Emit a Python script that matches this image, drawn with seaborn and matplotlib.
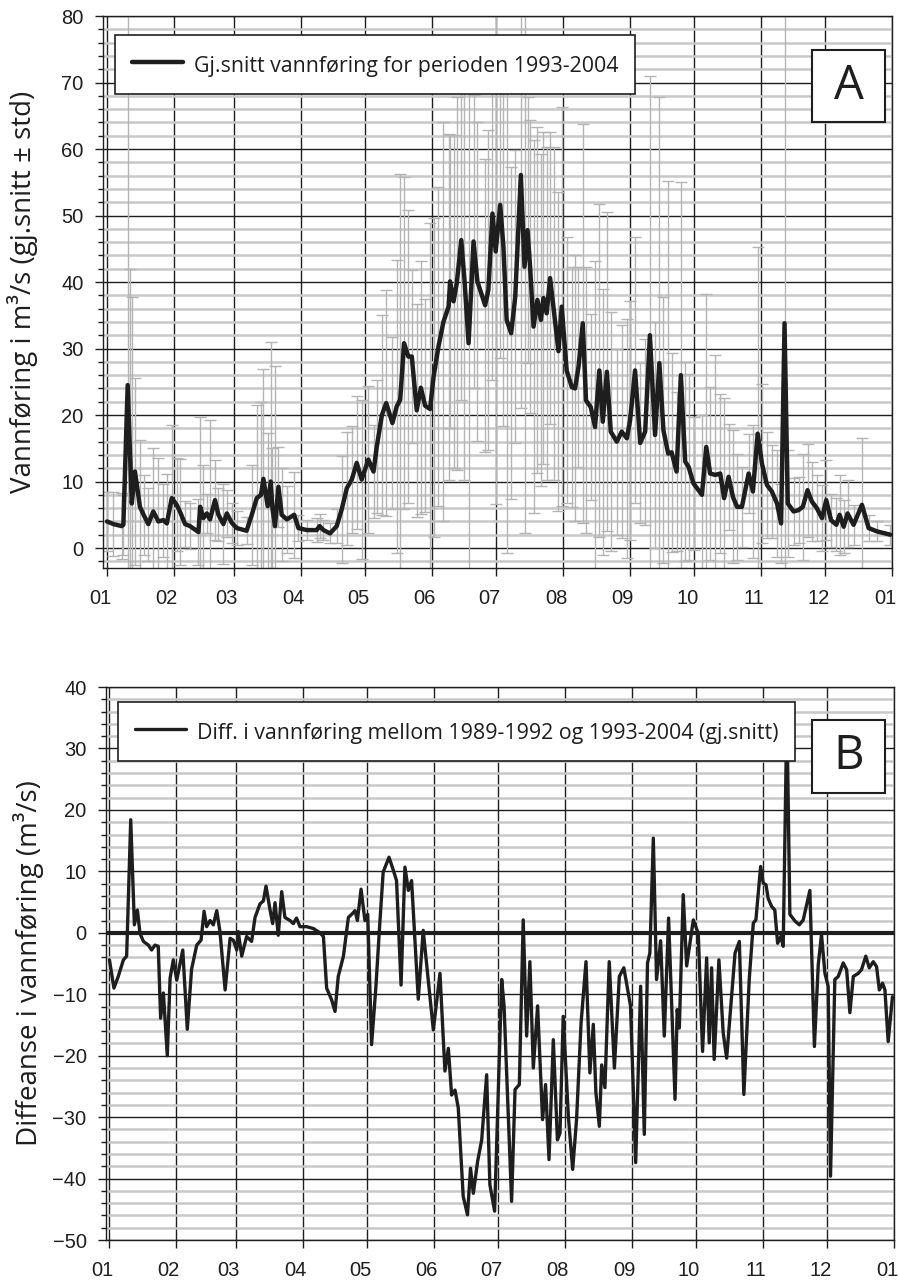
import matplotlib
matplotlib.use("Agg")
import matplotlib.pyplot as plt
import matplotlib.transforms as mtransforms
from matplotlib.patches import Rectangle
from matplotlib.ticker import MultipleLocator
import seaborn as sns

# Panel A: mean discharge 1993-2004 (day of year, 0 = 1 Jan) with +- std
days_a = [0, 3, 6.8, 7.6, 9.6, 10.5, 11.5, 13.0, 15.3, 17, 19.2, 21.5, 23.9, 26.2, 27.8,
          30.1, 32.4, 34.0, 36.3, 38.6, 42.5, 43.3, 44.8, 46.4, 47.9, 50.2, 51.8, 54.1,
          55.7, 58.0, 60.3, 64.9, 67.3, 69.6, 71.6, 72.7, 74.7, 76.1, 76.9, 78.1, 79.7,
          81.2, 83.6, 87.0, 89.0, 92.9, 97.5, 98.8, 100.6, 103.7, 106.8, 109.1, 111.5,
          113.8, 116.1, 118.4, 121.5, 123.9, 125.4, 127.8, 129.8, 132.7, 134.7, 136.3,
          138.1, 140.1, 141.7, 144.0, 145.9, 147.9, 150.2, 151.8, 154.1, 156.4, 158.8,
          159.5, 161.1, 162.6, 164.7, 166.2, 168.1, 170.4, 172.2, 175.8, 177.3, 179.2,
          180.7, 182.8, 184.3, 185.8, 187.9, 189.8, 192.4, 194.1, 195.5, 196.7, 198.3,
          200.1, 201.7, 202.9, 204.4, 206.0, 207.9, 209.9, 211.4, 213.7, 216.1, 217.6,
          219.2, 221.2, 222.7, 224.9, 226.9, 228.9, 230.5, 232.4, 234.2, 237.0, 239.3,
          241.7, 243.2, 245.5, 247.9, 250.2, 252.4, 254.8, 256.8, 258.7, 260.9, 262.5,
          264.8, 266.8, 268.8, 270.4, 272.7, 276.6, 278.6, 280.4, 282.8, 285.1, 286.9,
          289.0, 291.0, 292.9, 295.2, 298.3, 300.3, 302.5, 304.5, 306.8, 309.1, 311.5,
          313.4, 315.0, 316.5, 319.2, 321.5, 323.5, 325.7, 327.7, 330.0, 332.4, 334.4,
          336.6, 339.1, 340.6, 342.5, 344.3, 347.1, 351.0, 354.1, 358.0, 364.2]
mean_a = [4.0, 3.6, 3.3, 3.5, 24.5, 16, 6.7, 11.5, 6.2, 5.0, 3.6, 5.5, 4.0, 4.2, 3.7,
          7.5, 6.5, 5.4, 3.6, 3.3, 2.4, 6.2, 4.5, 5.2, 4.3, 7.2, 5.0, 3.6,
          5.2, 3.8, 3.0, 2.6, 5.0, 7.5, 8.0, 10.4, 6.3, 10.0, 6.0, 3.3, 9.2,
          5.0, 4.3, 5.0, 3.0, 2.7, 2.7, 3.3, 2.7, 2.2, 3.3, 5.8, 9.0,
          10.3, 12.8, 10.3, 13.3, 11.5, 15.2, 20.0, 21.8, 18.8, 21.3, 22.3,
          30.8, 28.8, 28.8, 20.7, 24.1, 21.4, 20.9, 25.7, 30.3, 34.0, 36.3,
          40.1, 37.1, 39.8, 46.3, 40.3, 30.8, 46.1, 40.1, 36.5, 38.8, 50.3,
          44.6, 51.6, 45.3, 34.3, 32.3, 37.8, 56.1, 42.3, 47.8, 42.3, 33.3,
          37.3, 34.3, 37.6, 35.3, 40.6, 35.3, 29.6, 36.3, 26.7, 24.2, 24.0,
          27.2, 33.8, 22.2, 21.2, 18.2, 26.7, 19.0, 26.5, 17.5, 16.0, 17.5,
          16.5, 19.2, 26.7, 15.8, 17.5, 32.0, 17.0, 27.8, 17.7, 14.2, 14.4,
          11.5, 26.0, 13.0, 12.2, 9.7, 8.0, 15.2, 11.2, 11.0, 11.2, 7.5,
          10.7, 7.7, 6.2, 6.2, 11.2, 8.5, 17.2, 12.7, 9.5, 8.5, 6.7,
          3.7, 33.8, 6.7, 5.5, 5.7, 6.2, 8.7, 7.0, 6.0, 4.5, 7.2,
          4.2, 3.5, 5.0, 3.2, 5.2, 3.5, 6.5, 3.0, 2.5, 2.0]
std_a = [4.5, 4.8, 5.0, 4.5, 58, 26, 31, 14, 10, 6, 5.5, 9.5, 9.5, 5.5, 7.5,
         11, 7, 8, 3.5, 3.5, 5, 13.5, 8, 3, 15, 6, 4, 6,
         3.5, 3, 2.5, 2, 7.5, 14, 14, 16.5, 11, 21, 9, 24, 6,
         7, 5, 6.5, 2, 1.5, 1.8, 1.8, 1.5, 1.5, 2.5, 8, 8.5,
         8, 10, 12, 11, 7, 10, 15, 17, 13, 22, 34,
         25, 22, 13, 16, 19, 16, 28, 24, 24, 30, 26,
         22, 25, 28, 24, 30, 41, 22, 24, 22, 24, 25,
         38, 23, 27, 35, 25, 22, 35, 40, 20, 22, 28,
         26, 25, 25, 25, 22, 25, 24, 30, 20, 18, 20,
         15, 30, 20, 14, 25, 25, 20, 24, 18, 14, 16,
         18, 18, 20, 12, 14, 39, 17, 40, 20, 41, 15,
         12, 29, 15, 14, 10, 12, 23, 13, 18, 12, 15,
         8, 10, 8, 6, 6, 10, 28, 12, 8, 7, 8,
         6, 50, 8, 5, 5, 8, 7, 6, 5, 5, 6,
         4, 4, 6, 4, 5, 3, 10, 2, 1.5, 1.5]

# Panel B: difference 1989-1992 minus 1993-2004
days_b = [0.2, 2.3, 4.3, 6.7, 8.2, 10.1, 11.8, 13.2, 14.4, 16.0, 18.3, 19.8, 21.4, 22.9,
          24.0, 25.3, 27.1, 28.4, 29.9, 31.5, 34.3, 36.4, 38.4, 40.8, 42.8, 44.2, 45.4,
          47.0, 48.5, 50.1, 51.6, 54.0, 56.3, 57.8, 59.4, 60.1, 61.7, 64.0, 66.3, 67.9,
          70.2, 71.8, 73.0, 74.9, 76.1, 77.2, 78.7, 80.3, 81.8, 84.2, 85.7, 87.2, 88.8,
          91.9, 95.0, 98.1, 99.7, 101.2, 103.5, 105.1, 106.6, 109.0, 111.3, 112.8, 114.4,
          115.5, 117.2, 119.0, 120.3, 122.1, 124.1, 126.0, 127.5, 130.2, 132.2, 133.7,
          135.8, 137.6, 139.2, 140.7, 143.8, 146.1, 150.8, 153.9, 156.2, 157.8, 159.3,
          160.9, 162.4, 164.7, 166.7, 168.1, 169.4, 171.4, 173.3, 175.6, 177.1, 179.3,
          182.6, 183.7, 187.2, 188.8, 190.8, 192.6, 194.2, 195.7, 197.3, 199.3, 201.6,
          203.0, 204.6, 206.6, 208.5, 209.7, 211.2, 213.6, 215.6, 217.4, 219.5, 221.8,
          223.6, 225.2, 226.4, 228.0, 229.1, 230.6, 232.6, 235.0, 237.3, 239.4, 242.5,
          244.9, 247.2, 248.9, 250.4, 251.5, 253.1, 254.6, 256.5, 258.2, 260.2, 263.2,
          264.2, 265.2, 267.0, 268.6, 271.7, 274.0, 276.0, 277.9, 279.1, 280.2, 281.4,
          283.6, 285.6, 287.2, 288.4, 291.1, 293.1, 295.2, 297.7, 299.6, 300.8, 303.0,
          304.2, 305.5, 306.5, 308.1, 309.6, 310.9, 312.4, 313.5, 315.2, 316.6, 319.0,
          321.0, 322.8, 325.9, 328.0, 329.8, 331.3, 332.9, 334.4, 335.5, 337.5, 339.1,
          341.4, 343.0, 344.5, 346.1, 348.4, 349.9, 351.9, 353.5, 355.4, 356.9, 358.2,
          359.7, 360.8, 362.3, 364.3]
diff_b = [-4.4, -9.0, -7.1, -4.4, -3.8, 18.4, 1.3, 3.7, -0.1, -1.4, -2.0, -2.8, -2.0, -2.2,
          -13.9, -9.8, -20.0, -7.4, -4.4, -7.7, -2.8, -15.7, -5.9, -2.0, -1.2, 3.5, 1.0,
          2.0, 1.3, 3.6, 0.2, -9.3, -0.9, -1.2, -2.8, 0.2, -3.8, -0.6, -1.4, 2.5,
          4.7, 5.2, 7.6, 3.7, 1.5, 4.9, -0.4, 6.7, 2.5, 2.0, 1.5, 2.4, 1.0,
          1.0, 0.7, 0.0, -0.6, -9.0, -10.9, -12.8, -7.1, -3.8, 2.5, 3.0, 3.6,
          2.0, 7.1, 2.0, 3.0, -18.2, -8.8, 2.0, 9.9, 12.3, 10.2, 8.5,
          -8.5, 10.7, 6.9, 8.5, -10.8, 0.4, -15.8, -6.6, -22.5, -18.8, -26.4,
          -25.6, -28.5, -42.9, -45.9, -38.3, -42.4, -37.2, -33.7, -23.1, -41.0, -45.3,
          -7.6, -11.9, -43.7, -25.5, -24.7, 2.1, -16.8, -4.7, -22.0, -11.9, -30.4,
          -24.7, -36.9, -17.4, -33.7, -32.6, -13.6, -29.9, -38.5, -30.4, -14.7, -4.7,
          -22.8, -14.9, -26.0, -31.5, -21.5, -25.2, -4.7, -22.0, -7.1, -5.7, -11.9,
          -37.4, -8.7, -32.8, -4.9, -3.3, 15.4, -7.6, -1.3, -16.8, 2.4, -27.1,
          -12.5, -15.5, 6.2, -5.4, 2.1, -0.1, -19.3, -4.1, -17.9, -5.7, -20.6,
          -4.4, -16.3, -20.4, -15.2, -3.3, -1.4, -26.3, -7.6, 1.6, 2.1, 10.8,
          8.1, 7.8, 5.6, 4.3, 3.7, -1.7, -0.6, -2.2, 36.0, 3.0, 1.9,
          1.3, 2.1, 6.9, -18.5, -5.2, -0.3, -6.6, -8.7, -39.6, -7.6, -7.1,
          -4.9, -6.0, -13.0, -7.1, -6.6, -6.0, -3.8, -5.7, -4.7, -5.5, -9.3,
          -8.2, -9.3, -17.7, -10.4]

month_days = [0, 31, 59, 90, 120, 151, 181, 212, 243, 273, 304, 334, 365]
month_labels = ["01", "02", "03", "04", "05", "06", "07", "08", "09", "10", "11", "12", "01"]

dark = "#1e1e1e"
label_font = "Open Sans"

sns.set_style("white")
plt.rcParams["font.family"] = ["Liberation Sans", "DejaVu Sans"]

fig = plt.figure(figsize=(8.99, 12.83), dpi=100)
ax_a = fig.add_axes([0.1146, 0.5573, 0.8777, 0.4302])
ax_b = fig.add_axes([0.1179, 0.0335, 0.8765, 0.4310])


def style_axis(ax, ylim, xmin):
    ax.set_xlim(xmin, 365)
    ax.set_ylim(*ylim)
    ax.set_xticks(month_days)
    ax.set_xticklabels(month_labels)
    ax.yaxis.set_major_locator(MultipleLocator(10))
    ax.yaxis.set_minor_locator(MultipleLocator(2))
    ax.grid(True, which="major", axis="both", color=dark, lw=1)
    ax.grid(True, which="minor", axis="y", color="#c8c8c8", lw=1.8)
    ax.set_axisbelow(True)
    ax.tick_params(axis="both", which="major", direction="out", length=6, width=1,
                   color=dark, labelsize=14.5, labelcolor=dark, left=True, bottom=True)
    ax.tick_params(axis="y", which="minor", direction="out", length=3.5, width=1,
                   color=dark, left=True)
    ax.tick_params(axis="x", pad=9)
    ax.tick_params(axis="y", pad=8)
    for s in ax.spines.values():
        s.set_visible(True)
        s.set_color(dark)
        s.set_linewidth(1)
    # month labels sit a little left of their gridline
    shift = mtransforms.ScaledTranslation(-0.07, 0, fig.dpi_scale_trans)
    for lab in ax.get_xticklabels():
        lab.set_transform(lab.get_transform() + shift)


def add_legend(ax, anchor):
    leg = ax.legend(loc="upper left", bbox_to_anchor=anchor, borderaxespad=0,
                    frameon=True, fancybox=False, edgecolor=dark, framealpha=1,
                    prop={"family": label_font, "size": 15.4}, handlelength=2.4,
                    handleheight=1.5, handletextpad=0.5, borderpad=0.78)
    leg.get_frame().set_linewidth(1.2)
    leg.set_zorder(8)
    for t in leg.get_texts():
        t.set_color(dark)


def letter_box(ax, x0, y0, w, h, letter):
    ax.add_patch(Rectangle((x0, y0), w, h, transform=ax.transAxes, fc="white",
                           ec=dark, lw=1.5, zorder=6))
    ax.text(x0 + w / 2, y0 + h / 2, letter, transform=ax.transAxes, ha="center",
            va="center", fontsize=34, family=label_font, color=dark, zorder=7)


# --- Panel A ---
style_axis(ax_a, (-3, 80), -1.86)
ax_a.errorbar(days_a, mean_a, yerr=std_a, fmt="none", ecolor="#b4b4b4",
              elinewidth=1, capsize=4, capthick=1, zorder=2)
sns.lineplot(x=days_a, y=mean_a, ax=ax_a, color=dark, lw=3.2, sort=False, zorder=3,
             label="Gj.snitt vannføring for perioden 1993-2004")
add_legend(ax_a, (0.0152, 0.9656))
letter_box(ax_a, 0.8986, 0.808, 0.0925, 0.1304, "A")
ax_a.set_ylabel("Vannføring i m³/s (gj.snitt ± std)", family=label_font, fontsize=20,
                color=dark)
ax_a.yaxis.set_label_coords(-0.082, 0.5)

# --- Panel B ---
style_axis(ax_b, (-50, 40), -1.4)
ax_b.axhline(0, color=dark, lw=3, zorder=2.5)
sns.lineplot(x=days_b, y=diff_b, ax=ax_b, color=dark, lw=2.4, sort=False, zorder=3,
             label="Diff. i vannføring mellom 1989-1992 og 1993-2004 (gj.snitt)")
add_legend(ax_b, (0.0152, 0.973))
letter_box(ax_b, 0.896, 0.8083, 0.0926, 0.132, "B")
ax_b.set_ylabel("Diffeanse i vannføring (m³/s)", family=label_font, fontsize=20,
                color=dark)
ax_b.yaxis.set_label_coords(-0.079, 0.5)

fig.savefig("out.png", dpi=100)
